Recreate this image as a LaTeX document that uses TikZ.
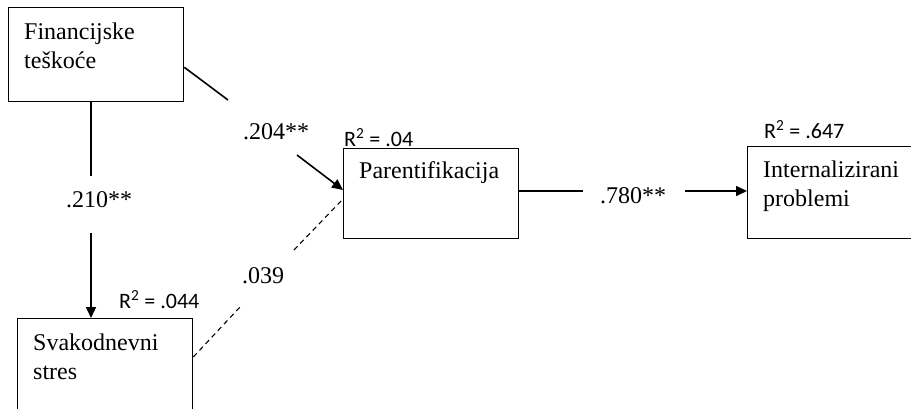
\documentclass[tikz,border=0pt]{standalone}
\usepackage{fontspec}
\setmainfont{Liberation Serif}
\newfontfamily\calfont{Carlito}
\usetikzlibrary{arrows.meta,calc}
\begin{document}
\begin{tikzpicture}[x=1pt,y=-1pt,
  box/.style={draw, line width=1.3pt, inner sep=0pt, anchor=north west, minimum width=175pt},
  txt/.style={anchor=base west, inner sep=0pt, font=\fontsize{24}{29}\selectfont, align=left, text width=165pt},
  lab/.style={anchor=base west, inner sep=0pt, font=\fontsize{24}{29}\selectfont},
  rsq/.style={anchor=base west, inner sep=0pt, font=\calfont\fontsize{22}{26}\selectfont},
  conn/.style={line width=1.6pt},
  arr/.style={conn, -{Triangle[length=11pt,width=10pt]}},
  dsh/.style={line width=1.1pt, dash pattern=on 5pt off 4pt}]
\fill[white] (0,0) rectangle (911,408);
\useasboundingbox (0,0) rectangle (911,408);
% boxes
\node[box, minimum height=94pt] (F) at (8,7) {};
\node[box, minimum height=90pt] (P) at (343,148) {};
\node[box, minimum height=92pt] (I) at (747,146) {};
\node[box, minimum height=96pt] (S) at (17,318) {};
% box texts
\node[txt] (Ft) at (24,39) {Financijske\\teškoće};
\node[txt] (Pt) at (359,178) {Parentifikacija};
\node[txt] (It) at (763,177) {Internalizirani\\problemi};
\node[txt] (St) at (33,350) {Svakodnevni\\stres};
% R squared
\node[rsq] (Rp) at (344,146) {R\textsuperscript{2} = .04};
\node[rsq] (Ri) at (764,138) {R\textsuperscript{2} = .647};
\node[rsq] (Rs) at (119,308) {R\textsuperscript{2} = .044};
% connector end points
\coordinate (f1) at ($(F.south east)+(0,-35)$);
\coordinate (g1) at (228,100);
\coordinate (g2) at (297,155);
\coordinate (p1) at ($(P.north west)+(0,42)$);
\coordinate (f2) at ($(F.south west)+(83,0)$);
\coordinate (h1) at (91,176);
\coordinate (h2) at (91,233);
\coordinate (s1) at ($(S.north west)+(74,0)$);
\coordinate (s2) at ($(S.north east)+(0,39)$);
\coordinate (d1) at (240,307);
\coordinate (d2) at (294,250);
\coordinate (p2) at ($(P.north west)+(0,51)$);
\coordinate (p3) at ($(P.north east)+(0,43)$);
\coordinate (k1) at (583,191);
\coordinate (k2) at (685,191);
\coordinate (i1) at ($(I.north west)+(0,45)$);
% connectors
\draw[conn] (f1) -- (g1);
\draw[arr] (g2) -- (p1);
\draw[conn] (f2) -- (h1);
\draw[arr] (h2) -- (s1);
\draw[dsh] (s2) -- (d1);
\draw[dsh] (d2) -- (p2);
\draw[conn] (p3) -- (k1);
\draw[arr] (k2) -- (i1);
% coefficient labels
\node[lab] (l1) at (243,139) {.204**};
\node[lab] (l2) at (66,207) {.210**};
\node[lab] (l3) at (242,283) {.039};
\node[lab] (l4) at (600,203) {.780**};
\end{tikzpicture}
\end{document}
